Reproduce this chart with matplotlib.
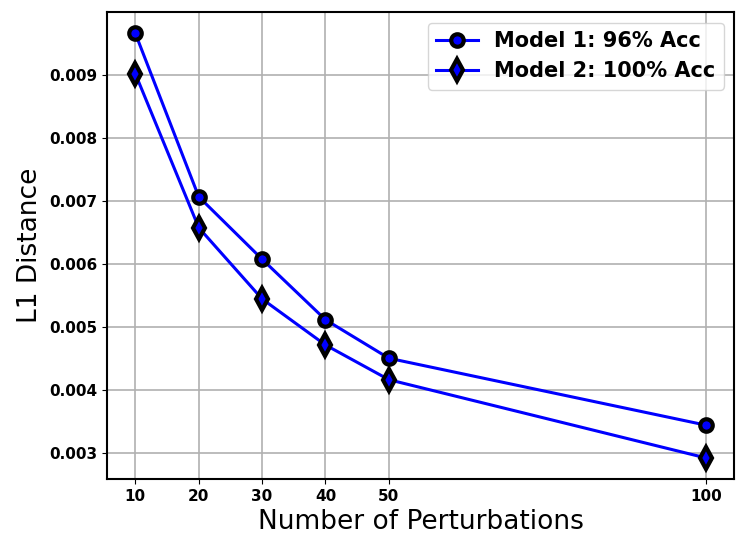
import numpy as np
import matplotlib
matplotlib.use("Agg")
import matplotlib.pyplot as plt

perturbations = [10, 20, 30, 40, 50, 100]
model1_l1 = [0.00966, 0.00707, 0.00608, 0.00512, 0.00451, 0.00345]
model2_l1 = [0.00902, 0.00658, 0.00545, 0.00472, 0.00417, 0.00293]
labels = ["Model 1: 96% Acc", "Model 2: 100% Acc"]

fig, ax = plt.subplots(figsize=(7.47, 5.52), dpi=100)
ax.plot(perturbations, model1_l1, color="blue", linewidth=2.2, marker="o",
        markersize=9, markerfacecolor="blue", markeredgecolor="black",
        markeredgewidth=3, label=labels[0])
ax.plot(perturbations, model2_l1, color="blue", linewidth=2.2, marker="d",
        markersize=11, markerfacecolor="blue", markeredgecolor="black",
        markeredgewidth=3, label=labels[1])

ax.set_xticks(perturbations)
ax.grid(True, linewidth=1.2)
ax.set_axisbelow(True)
for lbl in ax.get_xticklabels() + ax.get_yticklabels():
    lbl.set_fontweight("bold")
    lbl.set_fontsize(11)
ax.set_xlabel("Number of Perturbations", fontsize=19)
ax.set_ylabel("L1 Distance", fontsize=19)
for sp in ax.spines.values():
    sp.set_linewidth(1.5)
ax.legend(loc="upper right", prop={"weight": "bold", "size": 15})

fig.subplots_adjust(left=0.143, right=0.983, top=0.978, bottom=0.132)
fig.savefig("out.png", dpi=100)
